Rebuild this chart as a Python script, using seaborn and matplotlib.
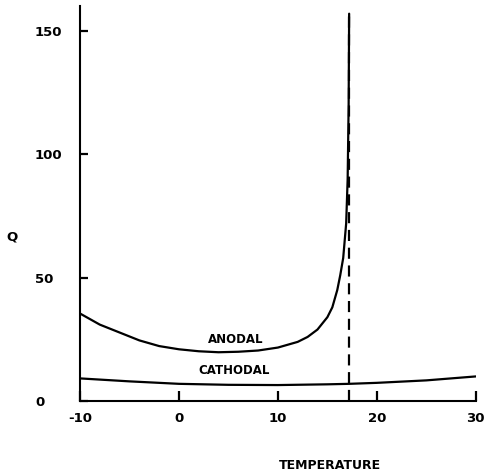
import matplotlib
matplotlib.use("Agg")
import matplotlib.pyplot as plt
import seaborn as sns
import pandas as pd

# ---- data ----
anodal_temp = [-10, -8, -6, -4, -2, 0, 2, 4, 6, 8, 10, 12, 13, 14, 15, 15.5, 16, 16.3, 16.6, 16.9, 17.05, 17.15, 17.2]
anodal_q = [35.5, 31, 27.8, 24.6, 22.3, 21, 20.2, 19.8, 20, 20.5, 21.7, 24, 26, 29, 34, 38, 45, 51, 58, 72, 90, 120, 157]

cathodal_temp = [-10, -5, 0, 5, 10, 15, 17.2, 20, 25, 30]
cathodal_q = [9.2, 8, 7, 6.6, 6.5, 6.8, 7, 7.4, 8.4, 10]

threshold_temp = 17.2
threshold_top = 157

x_ticks = [-10, 0, 10, 20, 30]
y_ticks = [0, 50, 100, 150]

sns.set_theme(style="white")
plt.rcParams.update({
    'font.family': ['DejaVu Sans'],
    'axes.unicode_minus': False,
    'text.color': 'black',
    'xtick.color': 'black',
    'ytick.color': 'black',
    'xtick.bottom': True,
    'ytick.left': True,
    'xtick.direction': 'in',
    'ytick.direction': 'in',
    'xtick.major.size': 7,
    'ytick.major.size': 6,
    'xtick.major.width': 1.6,
    'ytick.major.width': 1.6,
})

fig = plt.figure(figsize=(4.86, 4.73), dpi=100)
ax = fig.add_axes([0.1646, 0.152, 0.8144, 0.8347])

df_a = pd.DataFrame({"T": anodal_temp, "Q": anodal_q})
df_c = pd.DataFrame({"T": cathodal_temp, "Q": cathodal_q})
sns.lineplot(data=df_a, x="T", y="Q", ax=ax, color="black", lw=1.6, sort=False)
sns.lineplot(data=df_c, x="T", y="Q", ax=ax, color="black", lw=1.6, sort=False)
ax.vlines(threshold_temp, 0, threshold_top, colors="black", linestyles=(0, (5, 3)), lw=1.6)

ax.set_xlim(-10, 30)
ax.set_ylim(0, 160)
ax.set_xticks(x_ticks)
ax.set_yticks(y_ticks)
ax.xaxis.set_ticks_position('bottom')
ax.yaxis.set_ticks_position('left')
ax.xaxis.set_tick_params(which='major', tick1On=True, length=7, width=1.6,
                         direction='in', color='black', pad=8, labelsize=9.5)
ax.yaxis.set_tick_params(which='major', tick1On=True, length=6, width=1.6,
                         direction='in', color='black', pad=32.4, labelsize=9.5)
for lab in ax.get_xticklabels() + ax.get_yticklabels():
    lab.set_fontweight("bold")
    lab.set_color("black")
for lab in ax.get_yticklabels():
    lab.set_horizontalalignment("left")

for s in ["top", "right"]:
    ax.spines[s].set_visible(False)
for s in ["left", "bottom"]:
    ax.spines[s].set_color("black")
    ax.spines[s].set_linewidth(1.5)

ax.set_xlabel("")
ax.set_ylabel("")
fig.text(330 / 486, 1 - 465 / 473, "TEMPERATURE", ha="center", va="center",
         fontsize=9, fontweight="bold", color="black")
fig.text(12 / 486, 1 - 237 / 473, "Q", ha="center", va="center",
         fontsize=9.5, fontweight="bold", color="black")

ax.text(5.7, 22.3, "ANODAL", ha="center", va="bottom", fontsize=8.5,
        fontweight="bold", color="black")
ax.text(5.6, 9.8, "CATHODAL", ha="center", va="bottom", fontsize=8.5,
        fontweight="bold", color="black")

fig.savefig("out.png", dpi=100)
